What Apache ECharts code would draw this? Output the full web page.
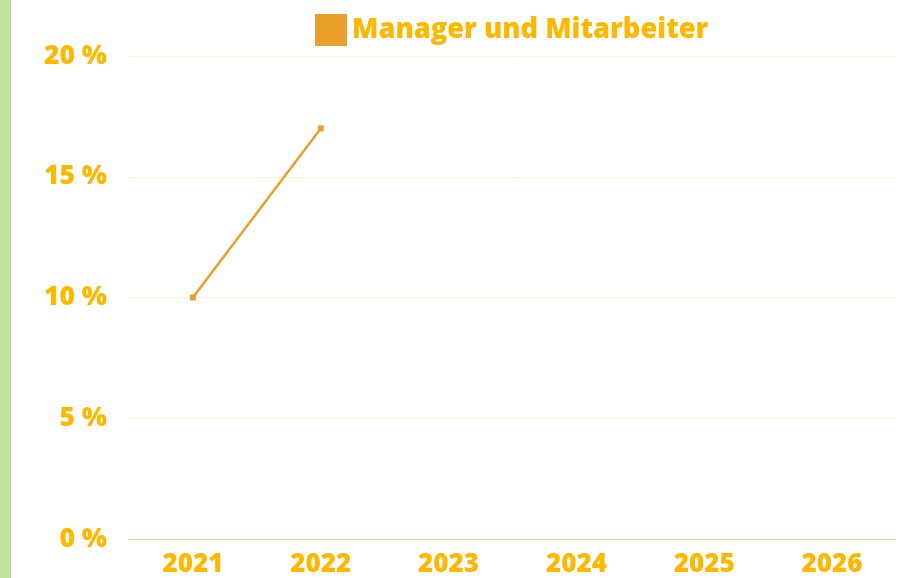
<!DOCTYPE html>
<html><head><meta charset="utf-8">
<script src="https://cdn.jsdelivr.net/npm/echarts@6/dist/echarts.min.js"></script>
<style>html,body{margin:0;padding:0;background:#fff}#c{width:912px;height:578px}</style>
</head><body><div id="c"></div>
<script>
const categories = ['2021','2022','2023','2024','2025','2026'];
const seriesName = 'Manager und Mitarbeiter';
const values = [10, 17, null, null, null, null];
const yTicks = [0, 5, 10, 15, 20];

const chart = echarts.init(document.getElementById('c'), null, {renderer:'canvas'});
const labelColor = '#FFB800';
chart.setOption({
  animation:false,
  backgroundColor:'#fff',
  graphic:[{type:'rect', left:0, top:0, shape:{width:11, height:578}, style:{fill:'#C0E3A0'}}],
  legend:{
    top:9, left:310, itemWidth:32, itemHeight:32, itemGap:8,
    icon:'rect',
    textStyle:{color:labelColor, fontFamily:'Open Sans', fontWeight:800, fontSize:27.3},
    data:[seriesName]
  },
  grid:{left:129, right:16, top:56, bottom:39},
  xAxis:{
    type:'category', data:categories, boundaryGap:true,
    axisLine:{lineStyle:{color:'#F7D27A', width:1}},
    axisTick:{show:false},
    axisLabel:{color:labelColor, fontFamily:'Open Sans', fontWeight:800, fontSize:26, margin:13}
  },
  yAxis:{
    type:'value', min:yTicks[0], max:yTicks[yTicks.length-1], interval:5,
    axisLine:{show:false}, axisTick:{show:false},
    splitLine:{lineStyle:{color:'#FFF3D4', width:1}},
    axisLabel:{color:labelColor, fontFamily:'Open Sans', fontWeight:800, fontSize:26.5, margin:22,
      formatter:v=>v+' %'}
  },
  series:[{
    name:seriesName, type:'line', data:values,
    color:'#E8A02A',
    symbol:'rect', symbolSize:6,
    lineStyle:{width:2.5, color:'#E8A02A'},
    itemStyle:{color:'#E8A02A'}
  }]
});
</script></body></html>
